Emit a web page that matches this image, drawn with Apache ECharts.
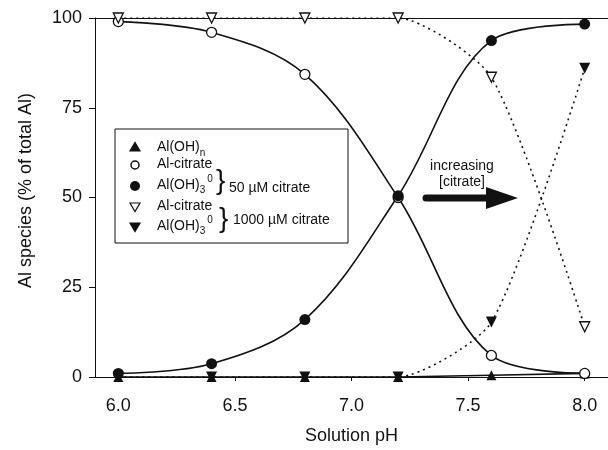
<!DOCTYPE html>
<html>
<head>
<meta charset="utf-8">
<script src="https://cdn.jsdelivr.net/npm/echarts@6/dist/echarts.min.js"></script>
<style>
  html, body { margin: 0; padding: 0; background: #fff; }
  #chart { width: 608px; height: 450px; }
</style>
</head>
<body>
<div id="chart"></div>
<script>
// Solution pH values at which Al speciation was computed
const phValues = [6.0, 6.4, 6.8, 7.2, 7.6, 8.0];
const xTicks = [6.0, 6.5, 7.0, 7.5, 8.0];
const yTicks = [0, 25, 50, 75, 100];

// Al species, % of total Al
const alOHn = [0, 0, 0, 0, 0.5, 1];
const alCitrate50 = [99, 96, 84.3, 50, 6, 1];
const alOH3_50 = [1, 3.7, 16, 50.5, 93.7, 98.3];
const alCitrate1000 = [100, 100, 100, 100, 83.5, 14];
const alOH3_1000 = [0, 0, 0, 0, 15.3, 86];

const FONT = "'Liberation Sans', Arial, Helvetica, sans-serif";
const INK = '#111';

function pairs(vals) { return phValues.map((p, i) => [p, vals[i]]); }

function measure(text, size) {
  const c = document.createElement('canvas').getContext('2d');
  c.font = size + 'px ' + FONT;
  return c.measureText(text).width;
}

const solid = { color: INK, width: 1.6, type: 'solid' };
const dotted = { color: INK, width: 1.6, type: [2, 4] };

const series = [
  {
    name: 'Al(OH)n', type: 'line', data: pairs(alOHn),
    symbol: 'triangle', symbolSize: 10,
    itemStyle: { color: INK }, lineStyle: solid, z: 3
  },
  {
    name: 'Al-citrate 50', type: 'line', data: pairs(alCitrate50), smooth: 0.35,
    symbol: 'circle', symbolSize: 10,
    itemStyle: { color: '#fff', borderColor: INK, borderWidth: 1.3 }, lineStyle: solid, z: 4
  },
  {
    name: 'Al(OH)3 50', type: 'line', data: pairs(alOH3_50), smooth: 0.35,
    symbol: 'circle', symbolSize: 11,
    itemStyle: { color: INK }, lineStyle: solid, z: 4
  },
  {
    name: 'Al-citrate 1000', type: 'line', data: pairs(alCitrate1000), smooth: 0.22,
    symbol: 'triangle', symbolRotate: 180, symbolSize: 10,
    itemStyle: { color: '#fff', borderColor: INK, borderWidth: 1.3 }, lineStyle: dotted, z: 5
  },
  {
    name: 'Al(OH)3 1000', type: 'line', data: pairs(alOH3_1000), smooth: 0.22,
    symbol: 'triangle', symbolRotate: 180, symbolSize: 11,
    itemStyle: { color: INK }, lineStyle: dotted, z: 5
  }
];

// Key box with species markers and braces
const LX = 115, LY = 129, LW = 233, LH = 114;
const mx = 135, tx = 157, fs = 14;
const rows = [147, 165, 186, 207, 227];
const wAlOH = measure('Al(OH)', fs);
const wSub3 = measure('3', 10);

function txt(x, y, text, size, extra) {
  return Object.assign({
    type: 'text', x: x, y: y, z: 20,
    style: { text: text, fill: INK, font: size + 'px ' + FONT, textVerticalAlign: 'middle' }
  }, extra || {});
}
function tri(cx, cy, r, down, fill) {
  const pts = down
    ? [[cx - r, cy - r * 0.8], [cx + r, cy - r * 0.8], [cx, cy + r * 0.9]]
    : [[cx - r, cy + r * 0.8], [cx + r, cy + r * 0.8], [cx, cy - r * 0.9]];
  return { type: 'polygon', z: 20, shape: { points: pts }, style: { fill: fill, stroke: INK, lineWidth: 1.2 } };
}

const graphic = [
  { type: 'rect', z: 19, shape: { x: LX, y: LY, width: LW, height: LH },
    style: { fill: '#fff', stroke: INK, lineWidth: 1 } },
  tri(mx, rows[0], 5, false, INK),
  { type: 'circle', z: 20, shape: { cx: mx, cy: rows[1], r: 4 }, style: { fill: '#fff', stroke: INK, lineWidth: 1.5 } },
  { type: 'circle', z: 20, shape: { cx: mx, cy: rows[2], r: 5 }, style: { fill: INK } },
  tri(mx, rows[3], 5, true, '#fff'),
  tri(mx, rows[4], 5, true, INK),

  txt(tx, rows[0], 'Al(OH)', fs), txt(tx + wAlOH, rows[0] + 6, 'n', 10),
  txt(tx, rows[1] - 1, 'Al-citrate', fs),
  txt(tx, rows[2] - 1, 'Al(OH)', fs), txt(tx + wAlOH, rows[2] + 4, '3', 10), txt(tx + wAlOH + wSub3 + 2, rows[2] - 7, '0', 10),
  txt(tx, rows[3] - 1, 'Al-citrate', fs),
  txt(tx, rows[4] - 1, 'Al(OH)', fs), txt(tx + wAlOH, rows[4] + 4, '3', 10), txt(tx + wAlOH + wSub3 + 2, rows[4] - 7, '0', 10),

  txt(216, 181, '}', 28),
  txt(229, 188, '50 \u00B5M citrate', fs),
  txt(219, 219, '}', 28),
  txt(233, 220, '1000 \u00B5M citrate', fs),

  // "increasing [citrate]" annotation with arrow
  { type: 'text', z: 20, x: 462, y: 166,
    style: { text: 'increasing', fill: INK, font: fs + 'px ' + FONT, textAlign: 'center', textVerticalAlign: 'middle' } },
  { type: 'text', z: 20, x: 462, y: 182,
    style: { text: '[citrate]', fill: INK, font: fs + 'px ' + FONT, textAlign: 'center', textVerticalAlign: 'middle' } },
  { type: 'line', z: 20, shape: { x1: 426, y1: 198, x2: 492, y2: 198 },
    style: { stroke: INK, lineWidth: 7, lineCap: 'round' } },
  { type: 'polygon', z: 20, shape: { points: [[486, 187], [518, 198], [486, 209]] }, style: { fill: INK } }
];

const chart = echarts.init(document.getElementById('chart'), null, { renderer: 'canvas' });
chart.setOption({
  animation: false,
  backgroundColor: '#fff',
  textStyle: { fontFamily: FONT },
  grid: { left: 95, top: 18, width: 515, bottom: 72, containLabel: false },
  xAxis: [
    {
      type: 'value', min: 5.9, max: 8.1, position: 'bottom',
      name: 'Solution pH', nameLocation: 'middle', nameGap: 50,
      nameTextStyle: { color: INK, fontSize: 18, fontFamily: FONT },
      axisLine: { show: true, lineStyle: { color: INK, width: 1 } },
      axisTick: { show: true, customValues: xTicks, length: 4, lineStyle: { color: INK } },
      axisLabel: { customValues: xTicks, formatter: v => v.toFixed(1), color: INK, fontSize: 18, margin: 20, fontFamily: FONT },
      splitLine: { show: false }
    },
    {
      type: 'value', min: 5.9, max: 8.1, position: 'top',
      axisLine: { show: true, lineStyle: { color: INK, width: 1 } },
      axisTick: { show: false }, axisLabel: { show: false }, splitLine: { show: false }
    }
  ],
  yAxis: {
    type: 'value', min: 0, max: 100, interval: 25,
    name: 'Al species (% of total Al)', nameLocation: 'middle', nameGap: 60, nameRotate: 90,
    nameTextStyle: { color: INK, fontSize: 18, fontFamily: FONT, padding: [0, 0, 0, 14] },
    axisLine: { show: true, lineStyle: { color: INK, width: 1 } },
    axisTick: { show: true, length: 6, lineStyle: { color: INK } },
    axisLabel: { color: INK, fontSize: 18, margin: 13, fontFamily: FONT },
    splitLine: { show: false }
  },
  series: series,
  graphic: graphic
});
</script>
</body>
</html>
